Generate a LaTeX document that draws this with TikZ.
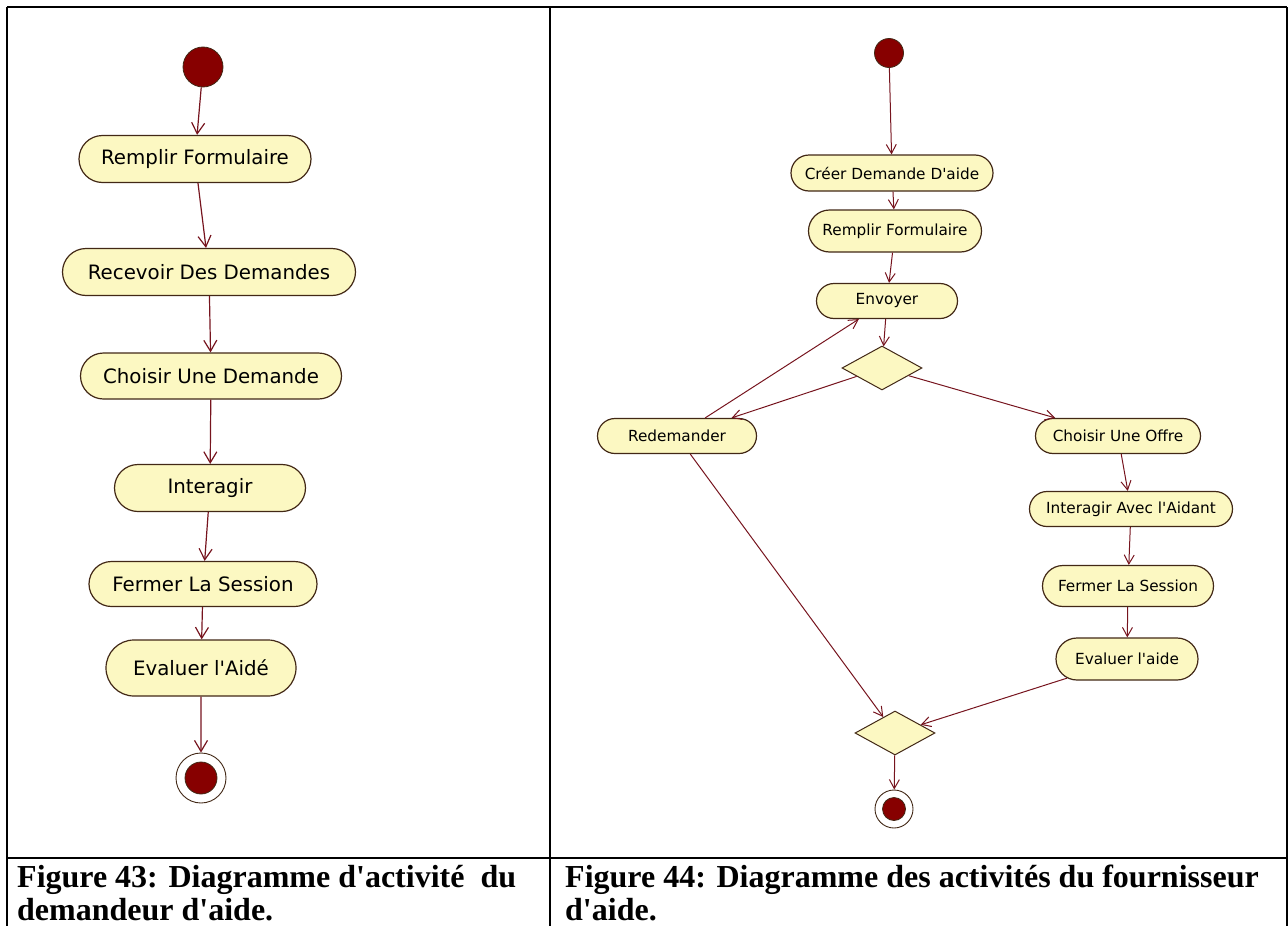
\documentclass[tikz,border=0pt]{standalone}
\usepackage{fontspec}
\newfontfamily\capfont{Liberation Serif}
\newfontfamily\umlfont{DejaVu Sans}
\usetikzlibrary{shapes.misc,shapes.geometric,arrows.meta}
\definecolor{actFill}{RGB}{252,248,194}
\definecolor{actBorder}{RGB}{66,40,22}
\definecolor{flowColor}{RGB}{118,20,30}
\definecolor{dotFill}{RGB}{135,0,0}

\begin{document}
\begin{tikzpicture}
[x=1pt,y=-1pt,
  lineDecorate/.style={-{Straight Barb[length=11pt,width=13pt]},flowColor,line width=1.2pt},%
  smallLineDecorate/.style={-{Straight Barb[length=9pt,width=10pt]},flowColor,line width=1pt},%
  actDecorate/.style={shape=rounded rectangle,draw=actBorder,fill=actFill,line width=1.2pt,inner sep=0pt},%
  decisionDecorate/.style={shape=diamond,draw=actBorder,fill=actFill,line width=1pt,inner sep=0pt,minimum width=80pt,minimum height=44pt},%
  startDecorate/.style={shape=circle,draw=actBorder,fill=dotFill,line width=0.8pt,inner sep=0pt},%
  finDecorate/.style={shape=circle,draw=actBorder,line width=0.9pt,inner sep=0pt},%
  frameDecorate/.style={line width=2pt},%
  captionDecorate/.style={anchor=base west,inner sep=0pt,font=\capfont\fontsize{32}{34}\selectfont\bfseries}]
\useasboundingbox (0,0) rectangle (1288,926);
%% table frame
\draw[frameDecorate] (7,7) -- (1287,7);
\draw[frameDecorate] (7,7) -- (7,926);
\draw[frameDecorate] (550,7) -- (550,926);
\draw[frameDecorate] (1287,7) -- (1287,926);
\draw[frameDecorate] (7,858) -- (1287,858);
%% left diagram: nodes
\node (start) at (203,67) [startDecorate,minimum size=40pt] {};
\foreach \nodename/\x/\y/\w/\h/\txt in {rf/195/159/232/47/Remplir Formulaire,
  rd/209/272/293/47/Recevoir Des Demandes, cd/211/376/261/46/Choisir Une Demande,
  it/210/488/191/47/Interagir, fs/203/584/228/45/Fermer La Session,
  ev/201/668/190/56/Evaluer l'Aidé}
{
  \node (\nodename) at (\x,\y) [actDecorate,minimum width=\w pt,minimum height=\h pt,
    font=\umlfont\fontsize{19.8}{22}\selectfont] {\txt};
}
\node (fin) at (201,778) [finDecorate,minimum size=50pt] {};
\node at (fin) [startDecorate,minimum size=32pt] {};
%% left diagram: edges
\path
\foreach \startnode/\endnode in {start/rf, rf/rd, rd/cd, cd/it, it/fs, fs/ev, ev/fin}
{
  (\startnode) edge[lineDecorate] (\endnode)
};
%% right diagram: nodes
\node (start2) at (889,53) [startDecorate,minimum size=29pt] {};
\foreach \nodename/\x/\y/\w/\h/\txt in {cr/892/173/202/36/Créer Demande D'aide,
  rf2/895/231/173/42/Remplir Formulaire, en/887/301/141/35/Envoyer,
  re/677/436/159/35/Redemander, co/1118/436/165/35/Choisir Une Offre,
  ia/1131/509/203/35/Interagir Avec l'Aidant, fs2/1128/586/171/41/Fermer La Session,
  ea/1127/659/142/42/Evaluer l'aide}
{
  \node (\nodename) at (\x,\y) [actDecorate,minimum width=\w pt,minimum height=\h pt,
    font=\umlfont\fontsize{15.3}{17}\selectfont] {\txt};
}
\node (dec) at (882,368) [decisionDecorate] {};
\node (mrg) at (895,733) [decisionDecorate] {};
\node (fin2) at (894,809) [finDecorate,minimum size=38pt] {};
\node at (fin2) [startDecorate,minimum size=23pt] {};
%% right diagram: edges
\path
\foreach \startnode/\endnode in {start2/cr, cr/rf2, rf2/en, en/dec, dec/re, re/en, dec/co,
  co/ia, ia/fs2, fs2/ea, re/mrg, ea/mrg, mrg/fin2}
{
  (\startnode) edge[smallLineDecorate] (\endnode)
};
%% captions
\node at (17,887) [captionDecorate] {Figure 43: Diagramme d'activité \ du};
\node at (17,920) [captionDecorate] {demandeur d'aide.};
\node at (565,887) [captionDecorate] {Figure 44: Diagramme des activités du fournisseur};
\node at (565,920) [captionDecorate] {d'aide.};
\end{tikzpicture}
\end{document}
